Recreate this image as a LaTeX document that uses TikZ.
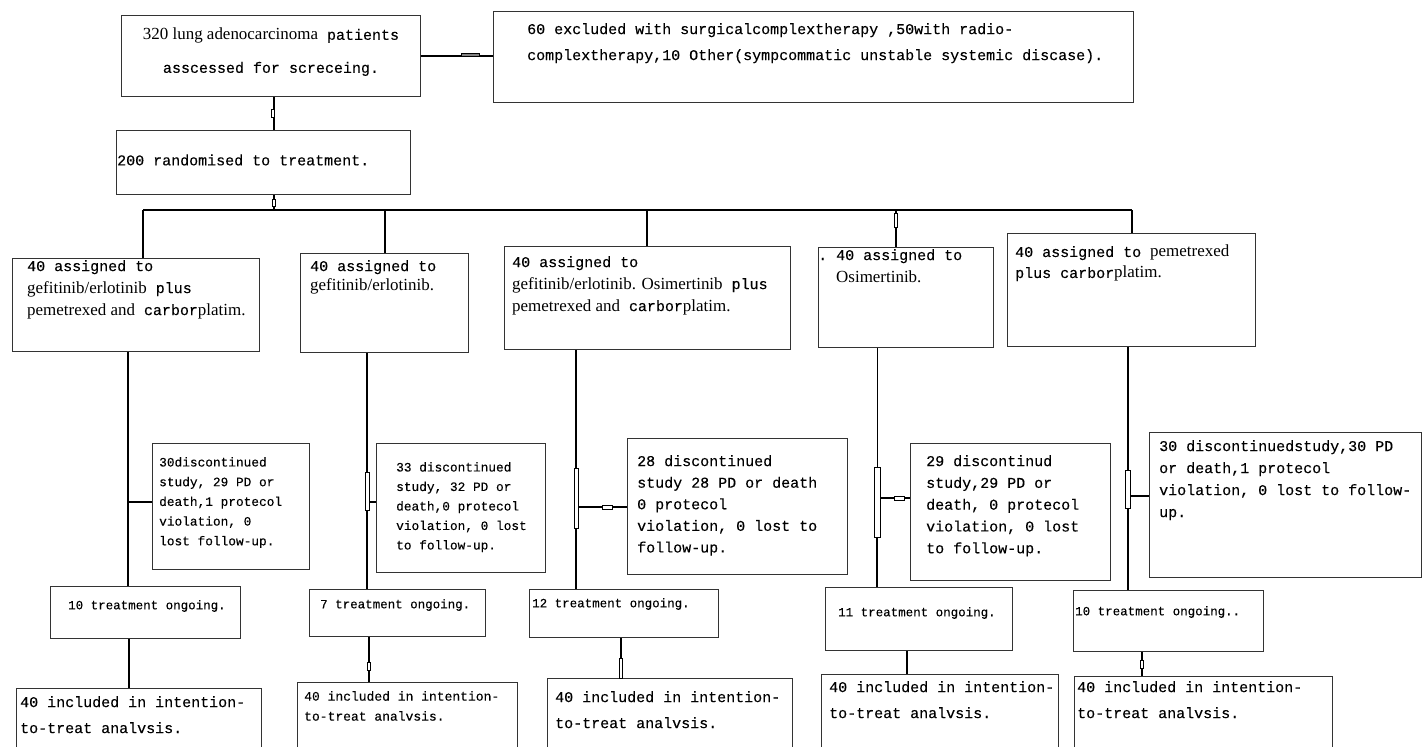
\documentclass[tikz,border=0pt]{standalone}
\usepackage{fontspec}
\setmainfont{Liberation Serif}[Scale=1.13]
\setmonofont{Liberation Mono}[FakeBold=0.2]
\usetikzlibrary{positioning}
\newcommand{\drug}[1]{{\rmfamily #1}}
\newcommand{\fs}[2]{\fontsize{#1}{#2}\selectfont\ttfamily}

\begin{document}
\begin{tikzpicture}[x=1pt,y=-1pt,
    box/.style={draw=black!80,line width=1.2pt,anchor=north west,inner sep=0pt},
    txt/.style={anchor=north west,inner sep=0pt,align=left},
    link/.style={-,draw=black,line width=2.2pt},
    joint/.style={draw=black,fill=white,line width=0.6pt,inner sep=0pt,minimum width=4pt}]
  \clip (0,0) rectangle (1422,747);
  \fill[white] (0,0) rectangle (1422,747);

  % screening and exclusion
  \node[box,minimum width=299pt,minimum height=81pt] (screen) at (121,15) {};
  \node[align=center,inner sep=0pt,font=\fs{15}{33}] (screentxt) at (271,52)
    {\drug{320 lung adenocarcinoma} patients\\asscessed for screceing.};
  \node[box,minimum width=640pt,minimum height=91pt] (excl) at (493,11) {};
  \node[txt,font=\fs{15}{26}] (excltxt) at (527,23)
    {60 excluded with surgicalcomplextherapy ,50with radio-\\
     complextherapy,10 Other(sympcommatic unstable systemic discase).};
  \node[box,minimum width=294pt,minimum height=64pt] (rand) at (116,130) {};
  \node[anchor=west,inner sep=0pt,font=\fs{15}{20}] (randtxt) at (117,160)
    {200 randomised to treatment.};

  % treatment arms
  \node[box,minimum width=247pt,minimum height=93pt] (armA) at (12,258) {};
  \node[txt,font=\fs{15}{22}] (armAtxt) at (27,260)
    {40 assigned to\\\drug{gefitinib/erlotinib} plus\\\drug{pemetrexed and} carbor\drug{platim.}};
  \node[box,minimum width=168pt,minimum height=99pt] (armB) at (300,253) {};
  \node[txt,font=\fs{15}{19}] (armBtxt) at (310,260)
    {40 assigned to\\\drug{gefitinib/erlotinib.}};
  \node[box,minimum width=286pt,minimum height=103pt] (armC) at (504,246) {};
  \node[txt,font=\fs{15}{22}] (armCtxt) at (512,256)
    {40 assigned to\\\drug{gefitinib/erlotinib. Osimertinib} plus\\\drug{pemetrexed and} carbor\drug{platim.}};
  \node[box,minimum width=175pt,minimum height=100pt] (armD) at (818,247) {};
  \node[txt,font=\fs{15}{22}] (armDtxt) at (836,249)
    {\llap{.\ }40 assigned to\\\drug{Osimertinib.}};
  \node[box,minimum width=248pt,minimum height=113pt] (armE) at (1007,233) {};
  \node[txt,font=\fs{15}{21}] (armEtxt) at (1015,245)
    {40 assigned to \drug{pemetrexed}\\plus carbor\drug{platim.}};

  % discontinued
  \node[box,minimum width=157pt,minimum height=126pt] (offA) at (152,443) {};
  \node[txt,font=\fs{12.8}{19.7}] (offAtxt) at (159,457)
    {30discontinued\\study, 29 PD or\\death,1 protecol\\violation, 0\\lost follow-up.};
  \node[box,minimum width=169pt,minimum height=129pt] (offB) at (376,443) {};
  \node[txt,font=\fs{12.8}{19.5}] (offBtxt) at (396,462)
    {33 discontinued\\study, 32 PD or\\death,0 protecol\\violation, 0 lost\\to follow-up.};
  \node[box,minimum width=220pt,minimum height=136pt] (offC) at (627,438) {};
  \node[txt,font=\fs{15}{21.6}] (offCtxt) at (637,455)
    {28 discontinued\\study 28 PD or death\\0 protecol\\violation, 0 lost to\\follow-up.};
  \node[box,minimum width=200pt,minimum height=137pt] (offD) at (910,443) {};
  \node[txt,font=\fs{15}{21.8}] (offDtxt) at (926,455)
    {29 discontinud\\study,29 PD or\\death, 0 protecol\\violation, 0 lost\\to follow-up.};
  \node[box,minimum width=272pt,minimum height=145pt] (offE) at (1149,432) {};
  \node[txt,font=\fs{15}{22}] (offEtxt) at (1159,440)
    {30 discontinuedstudy,30 PD\\or death,1 protecol\\violation, 0 lost to follow-\\up.};

  % ongoing
  \node[box,minimum width=190pt,minimum height=52pt] (goA) at (50,586) {};
  \node[txt,font=\fs{12.5}{16}] (goAtxt) at (68,600) {10 treatment ongoing.};
  \node[box,minimum width=176pt,minimum height=47pt] (goB) at (309,589) {};
  \node[txt,font=\fs{12.5}{16}] (goBtxt) at (320,599) {7 treatment ongoing.};
  \node[box,minimum width=189pt,minimum height=48pt] (goC) at (529,589) {};
  \node[txt,font=\fs{12.5}{16}] (goCtxt) at (532,598) {12 treatment ongoing.};
  \node[box,minimum width=187pt,minimum height=63pt] (goD) at (825,587) {};
  \node[txt,font=\fs{12.5}{16}] (goDtxt) at (838,607) {11 treatment ongoing.};
  \node[box,minimum width=190pt,minimum height=61pt] (goE) at (1073,590) {};
  \node[txt,font=\fs{12.5}{16}] (goEtxt) at (1075,606) {10 treatment ongoing..};

  % intention-to-treat
  \node[box,minimum width=245pt,minimum height=80pt] (inA) at (16,688) {};
  \node[txt,font=\fs{15}{26}] (inAtxt) at (20,696) {40 included in intention-\\to-treat analvsis.};
  \node[box,minimum width=220pt,minimum height=80pt] (inB) at (297,682) {};
  \node[txt,font=\fs{13}{20}] (inBtxt) at (304,691) {40 included in intention-\\to-treat analvsis.};
  \node[box,minimum width=245pt,minimum height=80pt] (inC) at (547,678) {};
  \node[txt,font=\fs{15}{26}] (inCtxt) at (555,691) {40 included in intention-\\to-treat analvsis.};
  \node[box,minimum width=237pt,minimum height=80pt] (inD) at (821,674) {};
  \node[txt,font=\fs{15}{26}] (inDtxt) at (829,681) {40 included in intention-\\to-treat analvsis.};
  \node[box,minimum width=258pt,minimum height=80pt] (inE) at (1074,676) {};
  \node[txt,font=\fs{15}{26}] (inEtxt) at (1077,681) {40 included in intention-\\to-treat analvsis.};

  % split points
  \coordinate (split) at (274,210);
  \coordinate (hA) at (143,210);
  \coordinate (hB) at (385,210);
  \coordinate (hC) at (647,210);
  \coordinate (hD) at (896,210);
  \coordinate (hE) at (1132,210);
  \coordinate (brA) at (128,502);
  \coordinate (brB) at (367,502);
  \coordinate (brC) at (576,507);
  \coordinate (brD) at (877,498);
  \coordinate (brE) at (1128,496);

  \path[link] (screen.east) edge (screen.east -| excl.west);
  \path[link] (screen.south -| split) edge (rand.north -| split);
  \path[link] (rand.south -| split) edge (split);
  \path[link] (hA) edge (hE);
  \path[link] (hA) edge (hA |- armA.north);
  \path[link] (hB) edge (hB |- armB.north);
  \path[link] (hC) edge (hC |- armC.north);
  \path[link] (hD) edge (hD |- armD.north);
  \path[link] (hE) edge (hE |- armE.north);

  \path[link] (armA.south -| brA) edge (goA.north -| brA);
  \path[link] (brA) edge (brA -| offA.west);
  \path[link] (armB.south -| brB) edge (goB.north -| brB);
  \path[link] (brB) edge (brB -| offB.west);
  \path[link] (armC.south -| brC) edge (goC.north -| brC);
  \path[link] (brC) edge (brC -| offC.west);
  \path[link,line width=1pt,double,double distance=1.6pt] (armD.south -| brD) edge (brD);
  \path[link] (brD) edge (goD.north -| brD);
  \path[link] (brD) edge (brD -| offD.west);
  \path[link] (armE.south -| brE) edge (goE.north -| brE);
  \path[link] (brE) edge (brE -| offE.west);

  \path[link] (goA.south -| 129,0) edge (inA.north -| 129,0);
  \path[link] (goB.south -| 369,0) edge (inB.north -| 369,0);
  \path[link] (goC.south -| 621,0) edge (inC.north -| 621,0);
  \path[link] (goD.south -| 907,0) edge (inD.north -| 907,0);
  \path[link] (goE.south -| 1142,0) edge (inE.north -| 1142,0);

  % small joints on the connectors
  \node[joint,minimum width=3pt,minimum height=8pt] (j1) at (273,113) {};
  \node[joint,minimum width=3pt,minimum height=7pt] (j2) at (274,203) {};
  \node[joint,fill=black!50,minimum width=18pt,minimum height=3pt] (j3) at (470,55) {};
  \node[joint,minimum height=38pt] (jB) at (367,491) {};
  \node[joint,minimum height=60pt] (jC) at (576,498) {};
  \node[joint,minimum width=10pt,minimum height=4pt] (jCb) at (607,507) {};
  \node[joint,minimum width=6pt,minimum height=70pt] (jD) at (877,502) {};
  \node[joint,minimum width=10pt,minimum height=4pt] (jDb) at (899,498) {};
  \node[joint,minimum width=5pt,minimum height=38pt] (jE) at (1128,489) {};
  \node[joint,minimum width=3pt,minimum height=8pt] (jiB) at (369,666) {};
  \node[joint,minimum width=3pt,minimum height=20pt] (jiC) at (621,668) {};
  \node[joint,minimum width=3pt,minimum height=8pt] (jiE) at (1142,664) {};
  \node[joint,minimum width=3pt,minimum height=14pt] (jhD) at (896,220) {};
\end{tikzpicture}
\end{document}
